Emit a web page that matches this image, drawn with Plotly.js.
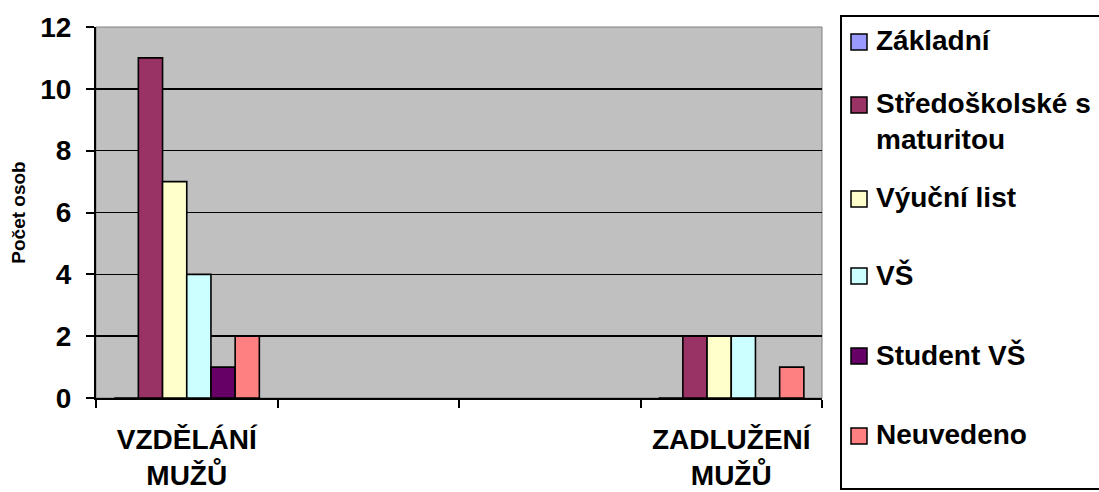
<!DOCTYPE html>
<html>
<head>
<meta charset="utf-8">
<script src="https://cdn.plot.ly/plotly-3.0.1.min.js"></script>
<style>html,body{margin:0;padding:0;background:#fff;overflow:hidden}#chart{width:1099px;height:492px}</style>
</head>
<body>
<div id="chart"></div>
<script>
// ---- data ----
const categories = ["VZDĚLÁNÍ<br>MUŽŮ", " ", "  ", "ZADLUŽENÍ<br>MUŽŮ"];
const dataCategories = ["VZDĚLÁNÍ<br>MUŽŮ", "ZADLUŽENÍ<br>MUŽŮ"];
const seriesNames = ["Základní", "Středoškolské s maturitou", "Výuční list", "VŠ", "Student VŠ", "Neuvedeno"];
const legendLabels = ["Základní", "Středoškolské s<br>maturitou", "Výuční list", "VŠ", "Student VŠ", "Neuvedeno"];
const zakladni = [0, 0];
const stredoskolske = [11, 2];
const vyucniList = [7, 2];
const vs = [4, 2];
const studentVs = [1, 0];
const neuvedeno = [2, 1];
const yTickVals = [0, 2, 4, 6, 8, 10, 12];
const yTitle = "Počet osob";

// ---- styling ----
const seriesValues = [zakladni, stredoskolske, vyucniList, vs, studentVs, neuvedeno];
const colors = ["#9999FF", "#993366", "#FFFFCC", "#CCFFFF", "#660066", "#FF8080"];
const FONT = "Liberation Sans, Arial, sans-serif";
const W = 1099, H = 492;
const M = {l: 96, r: 277, t: 27, b: 94};
const PW = W - M.l - M.r, PH = H - M.t - M.b;
const px2x = p => (p - M.l) / PW;
const py2y = p => (H - M.b - p) / PH;

const traces = seriesNames.map((n, i) => ({
  type: "bar",
  name: n,
  x: dataCategories,
  y: seriesValues[i],
  marker: {color: colors[i], line: {color: "#000", width: 1.6}},
  hoverinfo: "skip"
}));

// custom legend (layout positions)
const legendItemY = [42, 105, 199, 276, 356, 436];
const shapes = [
  {type: "rect", xref: "paper", yref: "paper", x0: 0, x1: 1, y0: 0, y1: 1,
   line: {color: "#808080", width: 1}, layer: "below"},
  {type: "rect", xref: "paper", yref: "paper", x0: px2x(841), x1: px2x(1110), y0: py2y(489), y1: py2y(16),
   line: {color: "#000", width: 2}, fillcolor: "rgba(0,0,0,0)"}
];
const annotations = [];
legendLabels.forEach((lab, i) => {
  const cy = legendItemY[i];
  shapes.push({type: "rect", xref: "paper", yref: "paper",
    x0: px2x(851), x1: px2x(867), y0: py2y(cy + 8), y1: py2y(cy - 8),
    fillcolor: colors[i], line: {color: "#000", width: 1.5}});
  annotations.push({xref: "paper", yref: "paper", x: px2x(874), y: py2y(cy - 19),
    xanchor: "left", yanchor: "top", align: "left", showarrow: false,
    text: lab, font: {family: FONT, size: 28, color: "#000", weight: "bold"}});
});

const layout = {
  width: W, height: H,
  margin: M,
  paper_bgcolor: "#fff",
  plot_bgcolor: "#C0C0C0",
  showlegend: false,
  barmode: "group",
  bargap: 0.2,
  bargroupgap: 0,
  font: {family: FONT, color: "#000"},
  xaxis: {
    type: "category",
    categoryorder: "array",
    categoryarray: categories,
    range: [-0.5, 3.5],
    tickson: "boundaries",
    ticks: "outside", ticklen: 8, tickwidth: 2, tickcolor: "#000",
    showline: true, linecolor: "#000", linewidth: 2,
    showgrid: false,
    ticklabelstandoff: 15,
    tickfont: {family: FONT, size: 28, color: "#000", weight: "bold"},
    fixedrange: true
  },
  yaxis: {
    range: [0, 12],
    tickmode: "array", tickvals: yTickVals,
    ticks: "outside", ticklen: 8, tickwidth: 2, tickcolor: "#000",
    showline: true, linecolor: "#000", linewidth: 2,
    showgrid: true, gridcolor: "#000", gridwidth: 1.5,
    zeroline: false,
    ticklabelstandoff: 9,
    tickfont: {family: FONT, size: 28, color: "#000", weight: "bold"},
    title: {text: yTitle, font: {family: FONT, size: 19, color: "#000", weight: "bold"}, standoff: 10},
    fixedrange: true
  },
  shapes: shapes,
  annotations: annotations
};

Plotly.newPlot("chart", traces, layout, {staticPlot: true, displayModeBar: false});
</script>
</body>
</html>
